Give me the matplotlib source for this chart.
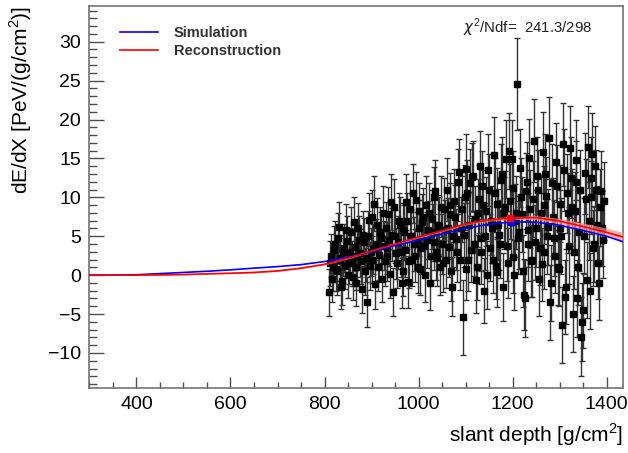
import numpy as np
import matplotlib
matplotlib.use("Agg")
import matplotlib.pyplot as plt
from matplotlib.ticker import MultipleLocator

plt.rcParams['font.family'] = ['Liberation Sans', 'DejaVu Sans']
plt.rcParams['mathtext.fontset'] = 'custom'
plt.rcParams['mathtext.rm'] = 'Liberation Sans'

# ---------------------------------------------------------
# longitudinal profiles
# ---------------------------------------------------------
x_prof = [300, 350, 400, 450, 500, 550, 600, 650, 700, 750, 800, 850, 900,
          950, 1000, 1050, 1100, 1150, 1200, 1250, 1300, 1350, 1400, 1435]
sim_prof = [0.0, 0.01, 0.05, 0.2, 0.35, 0.5, 0.68, 0.9, 1.1, 1.35, 1.75, 2.3,
            3.0, 3.8, 4.5, 5.3, 6.0, 6.55, 6.85, 6.8, 6.4, 5.75, 5.0, 4.3]
rec_prof = [0.0, 0.0, 0.01, 0.03, 0.08, 0.17, 0.25, 0.35, 0.55, 0.9, 1.4, 2.2,
            3.1, 4.0, 4.9, 5.7, 6.6, 7.1, 7.35, 7.4, 6.95, 6.25, 5.5, 4.9]
rec_band = [0.04, 0.04, 0.04, 0.05, 0.06, 0.07, 0.08, 0.09, 0.1, 0.1, 0.11,
            0.12, 0.12, 0.13, 0.14, 0.15, 0.16, 0.18, 0.2, 0.25, 0.35, 0.45,
            0.55, 0.6]

# shower maximum markers
xmax_sim = [1197]
ymax_sim = [6.85]
xmax_rec = [1195]
ymax_rec = [7.35]

# ---------------------------------------------------------
# measured dE/dX points (two interleaved sets of bins)
# ---------------------------------------------------------
x_even = list(range(810, 1395, 4))
y_even = [
    -2.2, 2.5, 1.0, 4.0, 0.5, 6.2, 2.0, -0.8, 3.5, 5.8,
    0.0, 3.0, 1.5, 6.8, -1.0, 2.5, 4.5, 1.8, 5.1, 0.5,
    -3.5, 7.1, 3.0, 2.0, 9.2, 4.0, 1.0, 5.5, -0.5, 3.8,
    6.0, 2.5, 4.5, 9.4, -2.2, 5.0, 1.5, 7.0, 3.0, 0.5,
    5.5, 9.4, -0.9, 8.5, 2.0, 4.0, 9.6, 1.0, 6.0, 3.5,
    7.5, 0.0, 4.5, 8.0, 2.5, 5.5, 10.0, 3.0, 6.5, 1.0,
    4.0, 8.5, 2.0, 6.0, 9.0, 0.5, 5.0, 7.5, 3.0, 13.2,
    6.0, -5.4, 10.0, 13.7, 2.0, 11.9, 12.6, 4.0, -0.6, 8.0,
    14.0, 3.0, 9.0, 5.0, 0.0, 11.0, 7.0, 2.0, 10.5, 0.4,
    6.5, 4.0, 13.0, 8.0, 14.9, 1.5, 9.5, 14.9, 2.3, 7.0,
    24.6, 5.5, 10.0, 0.5, -3.0, 12.0, 4.0, 8.5, 2.0, 17.3,
    6.0, 11.0, 3.5, 1.4, 9.0, 13.0, 5.0, 17.6, -1.0, 7.5,
    2.5, 11.5, 0.8, 6.0, -6.4, 13.5, -1.5, 8.0, 16.4, 8.7,
    3.0, 12.0, -3.0, 5.5, -7.9, -4.5, 13.1, -0.6, 7.0, 10.0,
    15.6, 4.0, 11.0, 1.5, 8.7, 6.0, 9.5,
]
err_even = [
    3.0, 2.8, 3.1, 2.9, 3.0, 3.2, 2.8, 3.0, 3.1, 3.3,
    3.0, 3.1, 2.9, 3.3, 3.0, 3.2, 3.1, 2.9, 3.2, 3.0,
    3.2, 3.4, 3.1, 3.0, 3.5, 3.2, 3.1, 3.3, 3.0, 3.2,
    3.4, 3.2, 3.3, 3.6, 3.1, 3.4, 3.2, 3.5, 3.3, 3.2,
    3.5, 3.6, 3.3, 3.6, 3.4, 3.5, 3.7, 3.3, 3.6, 3.4,
    3.7, 3.5, 3.6, 3.8, 3.5, 3.7, 3.9, 3.6, 3.8, 3.5,
    3.8, 4.0, 3.7, 3.9, 4.1, 3.8, 4.0, 4.1, 3.9, 4.3,
    4.0, 4.8, 4.2, 4.4, 4.0, 4.3, 4.4, 4.1, 4.2, 4.4,
    4.5, 4.2, 4.5, 4.3, 4.4, 4.6, 4.4, 4.3, 4.6, 4.5,
    4.6, 4.4, 4.8, 4.6, 5.0, 4.5, 4.8, 5.0, 4.6, 4.7,
    5.9, 4.7, 5.0, 4.6, 4.9, 5.1, 4.7, 5.0, 4.8, 5.3,
    4.9, 5.1, 4.8, 4.7, 5.0, 5.2, 4.8, 5.3, 4.9, 5.0,
    4.8, 5.2, 4.7, 5.0, 4.9, 5.3, 4.8, 5.1, 5.4, 5.0,
    4.8, 5.2, 4.9, 5.0, 5.1, 4.8, 5.2, 4.9, 5.0, 4.7,
    5.3, 4.9, 5.1, 4.6, 5.0, 4.8, 5.0,
]

x_odd = list(range(812, 1393, 4))
y_odd = [
    1.5, -0.5, 3.2, 0.8, 4.8, 2.2, -1.5, 3.0, 1.2, 4.4,
    2.0, 5.5, -0.2, 3.6, 1.0, 6.0, 2.8, -1.8, 4.2, 2.2,
    5.0, 1.2, 7.5, 3.4, -1.2, 6.5, 2.6, 4.8, 8.0, 1.8,
    3.5, 7.8, 0.2, 5.2, 8.8, 2.8, 4.2, 6.5, -1.0, 5.8,
    3.2, 7.0, 1.8, 5.0, 10.5, 2.5, 4.5, 8.2, 0.8, 6.8,
    3.8, 9.0, 5.8, -1.0, 7.2, 4.2, 10.8, 2.2, 6.2, 8.8,
    1.5, 5.8, 11.0, 3.6, 7.8, -1.5, 9.5, 4.6, 12.0, 2.0,
    8.5, 5.2, 0.8, 10.5, 6.5, 3.2, 12.8, 7.2, 1.0, 9.8,
    4.8, 11.5, -2.0, 8.2, 13.5, 3.5, 6.0, 15.5, 1.2, 9.2,
    5.2, 12.2, -1.5, 8.8, 3.8, 16.0, 6.8, 11.2, 0.0, 8.0,
    4.8, 13.8, 7.8, -2.5, 10.8, 5.8, 15.0, 1.8, 9.8, 4.2,
    12.8, -0.5, 8.0, 15.8, 3.0, 10.2, 6.2, -3.5, 11.8, 4.8,
    14.5, 1.0, 9.2, 5.0, 16.8, -2.8, 10.5, 3.8, 12.5, -5.0,
    8.2, 14.8, 1.0, 11.0, -6.0, 5.0, 9.8, 16.5, -2.0, 12.5,
    3.5, 14.0, 6.5, -1.0, 10.8, 4.5,
]
err_odd = [
    2.9, 3.0, 3.1, 2.8, 3.2, 3.0, 2.9, 3.1, 3.0, 3.2,
    3.1, 3.2, 3.0, 3.1, 2.9, 3.3, 3.1, 3.0, 3.2, 3.1,
    3.3, 3.1, 3.4, 3.2, 3.1, 3.4, 3.2, 3.3, 3.5, 3.2,
    3.3, 3.5, 3.2, 3.4, 3.6, 3.3, 3.4, 3.5, 3.2, 3.5,
    3.4, 3.6, 3.4, 3.5, 3.8, 3.4, 3.6, 3.7, 3.4, 3.6,
    3.6, 3.8, 3.7, 3.5, 3.8, 3.6, 4.0, 3.6, 3.8, 3.9,
    3.7, 3.9, 4.1, 3.8, 4.0, 3.8, 4.1, 3.9, 4.2, 3.9,
    4.2, 4.1, 4.0, 4.3, 4.2, 4.1, 4.5, 4.3, 4.2, 4.4,
    4.3, 4.5, 4.2, 4.4, 4.6, 4.3, 4.4, 4.8, 4.3, 4.6,
    4.5, 4.7, 4.4, 4.6, 4.5, 4.9, 4.6, 4.8, 4.5, 4.7,
    4.7, 5.0, 4.8, 4.6, 4.9, 4.7, 5.1, 4.6, 4.9, 4.8,
    5.0, 4.7, 4.9, 5.2, 4.8, 5.0, 4.9, 4.8, 5.1, 4.9,
    5.1, 4.8, 5.0, 4.9, 5.3, 4.8, 5.1, 4.9, 5.2, 4.9,
    5.0, 5.2, 4.8, 5.1, 5.0, 4.9, 5.1, 5.3, 4.9, 5.2,
    4.9, 5.2, 5.0, 4.8, 5.1, 4.9,
]

chi2_text = r"$\chi^{2}$/Ndf=  241.3/298"

# ---------------------------------------------------------
# Plotting
# ---------------------------------------------------------
fig = plt.figure(figsize=(6.28, 4.53), dpi=100)
ax = fig.add_axes([0.1425, 0.1435, 0.8495, 0.8435])

x_data = x_even + x_odd
y_data = y_even + y_odd
y_err = err_even + err_odd
ax.errorbar(x_data, y_data, yerr=y_err, fmt='s', color='black', ms=3.8,
            ecolor='0.2', elinewidth=1.0, capsize=2.0, capthick=1.0, zorder=2)

rec = np.array(rec_prof)
band = np.array(rec_band)
ax.fill_between(x_prof, rec - band, rec + band, color='#ff8c8c', alpha=0.7,
                lw=0, zorder=3)
ax.plot(x_prof, sim_prof, color='#0000ff', lw=1.2, label='Simulation', zorder=4)
ax.plot(x_prof, rec_prof, color='#ff0000', lw=1.2, label='Reconstruction', zorder=5)
ax.plot(xmax_sim, ymax_sim, 's', color='#0000ff', ms=4.5, zorder=6)
ax.plot(xmax_rec, ymax_rec, 's', color='#ff0000', ms=4.5, zorder=6)

ax.set_xlim(300, 1435)
ax.set_ylim(-14.5, 34.6)

ax.xaxis.set_major_locator(MultipleLocator(200))
ax.xaxis.set_minor_locator(MultipleLocator(50))
ax.yaxis.set_major_locator(MultipleLocator(5))
ax.yaxis.set_minor_locator(MultipleLocator(1))
ax.tick_params(which='both', direction='in', top=False, right=False,
               labelsize=14, color='0.3')
ax.tick_params(axis='y', which='major', length=11, width=1.0, pad=6)
ax.tick_params(axis='y', which='minor', length=5.5, width=1.0)
ax.tick_params(axis='x', which='major', length=8, width=1.0, pad=6)
ax.tick_params(axis='x', which='minor', length=4, width=1.0)
for s in ax.spines.values():
    s.set_color('0.45')
    s.set_linewidth(1.2)

ax.set_xlabel("slant depth [g/cm$^{2}$]", fontsize=15, loc='right', labelpad=6)
ax.set_ylabel("dE/dX [PeV/(g/cm$^{2}$)]", fontsize=15, loc='top', labelpad=10)

leg = ax.legend(loc='upper left', bbox_to_anchor=(0.03, 0.985), frameon=False,
                handlelength=2.6, borderaxespad=0.6,
                labelspacing=0.25, handletextpad=1.1,
                prop={'weight': 'bold', 'size': 10.5})
for t in leg.get_texts():
    t.set_color('#333333')

ax.text(0.942, 0.972, chi2_text, transform=ax.transAxes, ha='right', va='top',
        fontsize=10.8, color='#222222')

fig.savefig("out.png", dpi=100)
